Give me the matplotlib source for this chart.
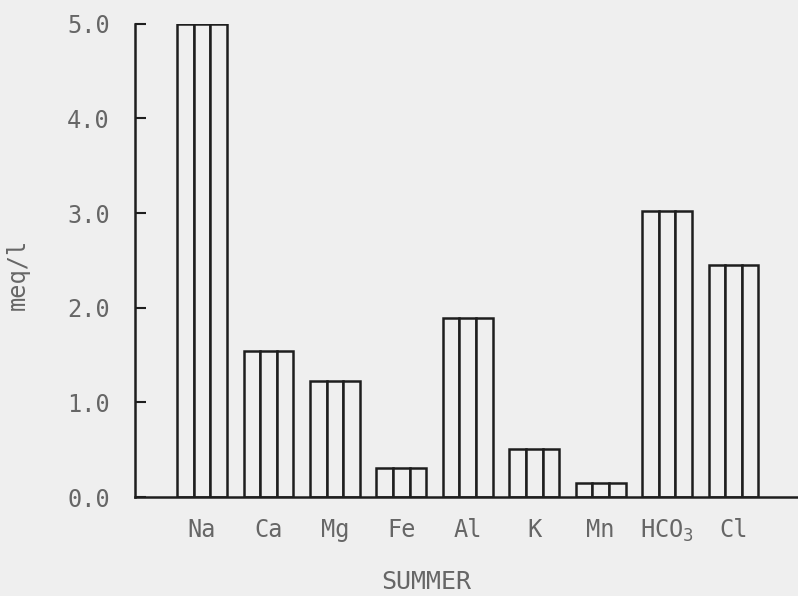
import matplotlib
matplotlib.use("Agg")
import matplotlib.pyplot as plt
import numpy as np

# Summer ion concentrations (meq/l)
ions = ["Na", "Ca", "Mg", "Fe", "Al", "K", "Mn", r"HCO$_3$", "Cl"]
meq = [5.0, 1.54, 1.23, 0.31, 1.89, 0.51, 0.15, 3.02, 2.45]
y_ticks = [0.0, 1.0, 2.0, 3.0, 4.0, 5.0]
y_tick_labels = ["0.0", "1.0", "2.0", "3.0", "4.0", "5.0"]

paper = "#efefef"
ink = "#1e1e1e"
text_col = "#666666"
font = "DejaVu Sans Mono"

fig = plt.figure(figsize=(7.98, 5.96), dpi=100, facecolor=paper)
ax = fig.add_axes([0.169, 0.166, 0.831, 0.794])
ax.set_facecolor(paper)

x = np.arange(len(ions))
width = 0.75
# each bar is split into three vertical strips
for k in (-1, 0, 1):
    ax.bar(x + k * width / 3, meq, width=width / 3, facecolor=paper,
           edgecolor=ink, linewidth=1.8, zorder=2)

ax.set_xlim(-1.01, 8.97)
ax.set_ylim(0, 5.0)

for side in ("top", "right"):
    ax.spines[side].set_visible(False)
for side in ("left", "bottom"):
    ax.spines[side].set_color(ink)
    ax.spines[side].set_linewidth(1.8)

ax.set_yticks(y_ticks)
ax.set_yticklabels(y_tick_labels, fontfamily=font, fontsize=17, color=text_col)
ax.tick_params(axis="y", direction="in", length=8, width=1.5, color=ink, pad=18)

ax.set_xticks(x)
ax.set_xticklabels(ions, fontfamily=font, fontsize=17, color=text_col)
ax.tick_params(axis="x", length=0, pad=15)

ax.set_ylabel("meq/l", fontfamily=font, fontsize=17, color=text_col)
ax.yaxis.set_label_coords(-0.158, 0.47)

ax.text(0.44, -0.18, "SUMMER", transform=ax.transAxes, ha="center",
        va="center", fontfamily=font, fontsize=18, color=text_col)

fig.savefig("out.png", dpi=100, facecolor=paper)
